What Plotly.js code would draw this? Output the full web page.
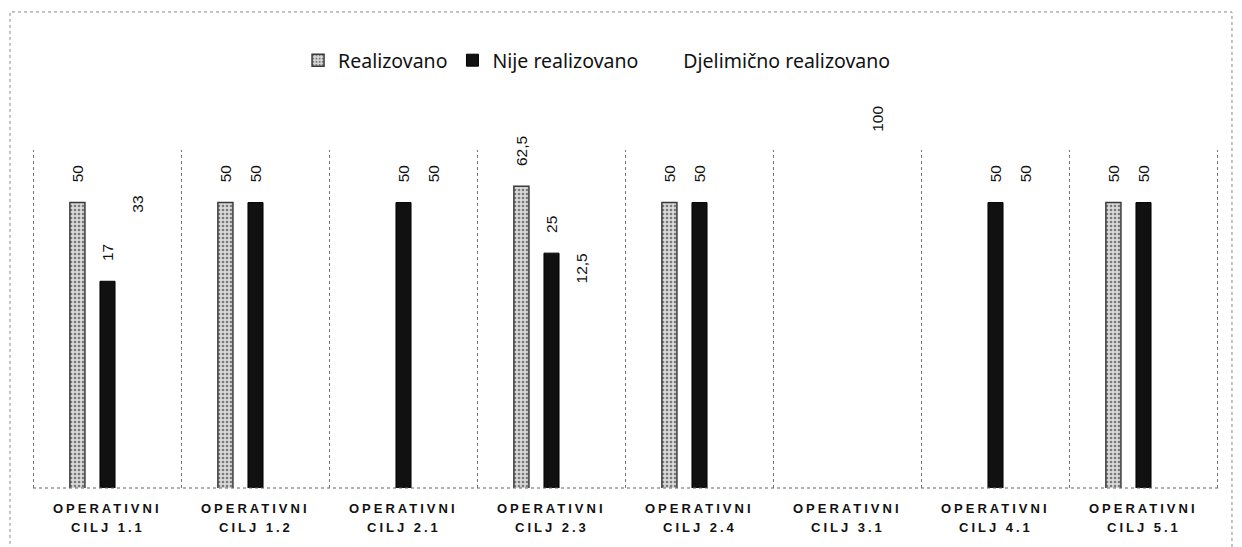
<!DOCTYPE html>
<html>
<head>
<meta charset="utf-8">
<script src="https://cdn.plot.ly/plotly-3.0.1.min.js"></script>
<style>
  html, body { margin: 0; padding: 0; background: #fff; }
  #chart { width: 1242px; height: 547px; }
  .annotation-text { letter-spacing: 3px; }
</style>
</head>
<body>
<div id="chart"></div>
<script>
// ---- data ----
var catLine1 = 'OPERATIVNI';
var goalCodes = ['1.1', '1.2', '2.1', '2.3', '2.4', '3.1', '4.1', '5.1'];
var categories = goalCodes.map(function (c) { return 'OPERATIVNI CILJ ' + c; });
var seriesNames = ['Realizovano', 'Nije realizovano', 'Djelimično realizovano'];
var realizovano = [50, 50, null, 62.5, 50, null, null, 50];
var nijeRealizovano = [17, 50, 50, 25, 50, null, 50, 50];
var djelimicno = [33, null, 50, 12.5, null, 100, 50, null];

function labels(arr) {
  return arr.map(function (v) {
    return v == null ? '' : '\u00a0\u00a0\u00a0\u00a0' + String(v).replace('.', ',');
  });
}

var labelFont = { family: 'Liberation Sans, Arial, sans-serif', size: 15.5, color: '#111' };

var traces = [
  {
    type: 'bar', name: seriesNames[0], x: categories, y: realizovano,
    text: labels(realizovano), textposition: 'outside', textangle: -90,
    textfont: labelFont, constraintext: 'none', hoverinfo: 'x+y',
    marker: {
      color: '#cfcfcf',
      line: { color: '#3a3a3a', width: 1.5 },
      pattern: { shape: '.', fgcolor: '#7a7a7a', bgcolor: '#d9d9d9', size: 4, solidity: 0.35 }
    }
  },
  {
    type: 'bar', name: seriesNames[1], x: categories, y: nijeRealizovano,
    text: labels(nijeRealizovano), textposition: 'outside', textangle: -90,
    textfont: labelFont, constraintext: 'none', hoverinfo: 'x+y',
    marker: { color: '#111111', line: { color: '#000', width: 1 } }
  },
  {
    type: 'bar', name: seriesNames[2], x: categories, y: djelimicno,
    text: labels(djelimicno), textposition: 'outside', textangle: -90,
    textfont: labelFont, constraintext: 'none', hoverinfo: 'x+y',
    marker: { color: 'rgba(255,255,255,0)', line: { width: 0 } }
  }
];

// separators between categories
var shapes = [];
for (var i = 0; i <= categories.length; i++) {
  shapes.push({
    type: 'line', xref: 'x', yref: 'paper', x0: i - 0.5, x1: i - 0.5, y0: 0, y1: 0.871,
    line: { color: '#777', width: 1, dash: 'dot' }
  });
}
// baseline
shapes.push({ type: 'line', xref: 'paper', yref: 'paper', x0: 0, x1: 1, y0: 0, y1: 0,
  line: { color: '#666', width: 1.2, dash: 'dot' } });
// outer frame
shapes.push({ type: 'rect', xref: 'paper', yref: 'paper', x0: -0.0194, x1: 1.0118, y0: -0.25, y1: 1.227,
  line: { color: '#888', width: 1, dash: 'dot' } });

var annotations = [];
var catFont = { family: 'Liberation Sans, Arial, sans-serif', size: 13, color: '#111' };
categories.forEach(function (c, idx) {
  annotations.push({ x: c, xref: 'x', yref: 'paper', y: -0.054, yanchor: 'middle', xanchor: 'center',
    showarrow: false, text: '<b>' + catLine1 + '</b>', font: catFont });
  annotations.push({ x: c, xref: 'x', yref: 'paper', y: -0.102, yanchor: 'middle', xanchor: 'center',
    showarrow: false, text: '<b>CILJ ' + goalCodes[idx] + '</b>', font: catFont });
});

var layout = {
  width: 1242, height: 547,
  margin: { l: 33, r: 24, t: 100, b: 59 },
  paper_bgcolor: '#fff', plot_bgcolor: '#fff',
  barmode: 'group', bargap: 0.39, bargroupgap: 0.5,
  showlegend: true,
  legend: {
    orientation: 'h', x: 0.476, xanchor: 'center', y: 1.152, yanchor: 'top',
    font: { family: 'Noto Sans, Open Sans, sans-serif', size: 19.5, color: '#111' },
    itemwidth: 30, traceorder: 'normal'
  },
  xaxis: { type: 'category', showticklabels: false, showgrid: false, zeroline: false,
    showline: false, ticks: '', fixedrange: true },
  yaxis: { type: 'log', range: [0, 2.3095], showticklabels: false, showgrid: false,
    zeroline: false, showline: false, ticks: '', fixedrange: true },
  shapes: shapes,
  annotations: annotations
};

Plotly.newPlot('chart', traces, layout, { displayModeBar: false, staticPlot: true });
</script>
</body>
</html>
